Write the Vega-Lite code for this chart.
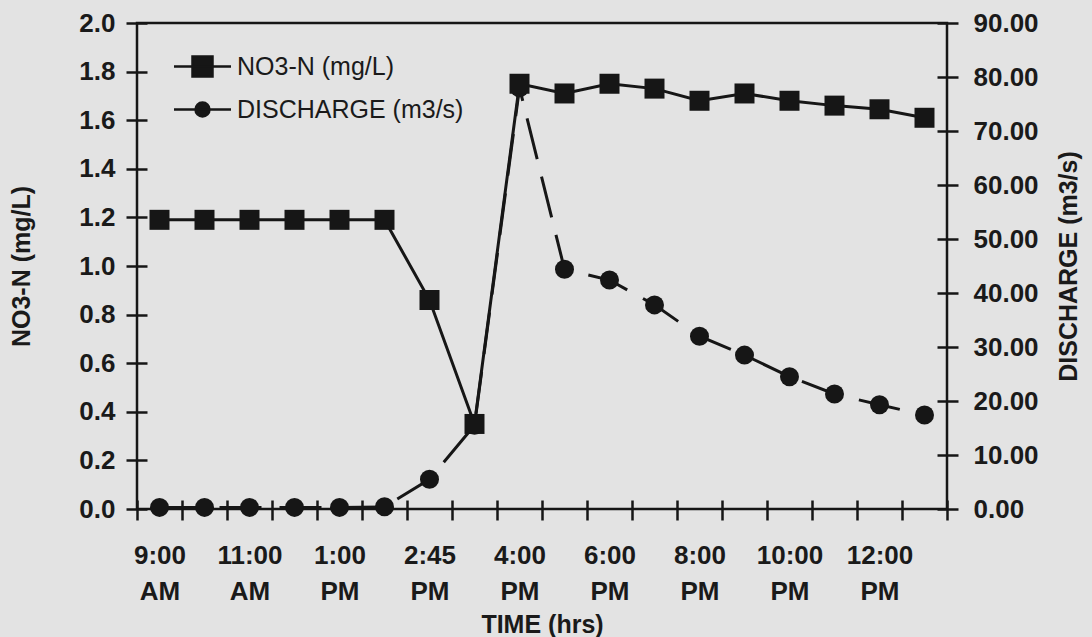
{
  "$schema": "https://vega.github.io/schema/vega-lite/v6.json",
  "width": 810,
  "height": 486,
  "autosize": "none",
  "padding": {"left": 137, "top": 23, "right": 145, "bottom": 128},
  "background": "#e3e3e3",
  "view": {"stroke": "#161616", "strokeWidth": 2.5},
  "config": {
    "font": "Liberation Sans",
    "axis": {
      "labelFont": "Liberation Sans", "labelFontWeight": "bold", "labelFontSize": 26, "labelColor": "#1a1a1a",
      "titleFont": "Liberation Sans", "titleFontWeight": "bold", "titleFontSize": 25, "titleColor": "#1a1a1a",
      "grid": false, "domain": false, "tickColor": "#161616", "tickWidth": 2.5
    },
    "legend": {
      "orient": "none", "title": null, "padding": 0, "symbolSize": 400,
      "labelFontSize": 25, "labelFont": "Liberation Sans", "labelColor": "#1a1a1a",
      "labelOffset": 22, "labelLimit": 500, "symbolStrokeWidth": 2.5,
      "symbolFillColor": "#161616", "symbolStrokeColor": "#161616"
    }
  },
  "data": {
    "values": [
      {"time": "9:00 AM", "no3": 1.19, "discharge": 0.3},
      {"time": "10:00 AM", "no3": 1.19, "discharge": 0.3},
      {"time": "11:00 AM", "no3": 1.19, "discharge": 0.3},
      {"time": "12:00 NOON", "no3": 1.19, "discharge": 0.3},
      {"time": "1:00 PM", "no3": 1.19, "discharge": 0.3},
      {"time": "2:00 PM", "no3": 1.19, "discharge": 0.4},
      {"time": "2:45 PM", "no3": 0.86, "discharge": 5.5},
      {"time": "3:15 PM", "no3": 0.35, "discharge": 15.5},
      {"time": "4:00 PM", "no3": 1.75, "discharge": 78},
      {"time": "5:00 PM", "no3": 1.71, "discharge": 44.4},
      {"time": "6:00 PM", "no3": 1.75, "discharge": 42.4},
      {"time": "7:00 PM", "no3": 1.73, "discharge": 37.8},
      {"time": "8:00 PM", "no3": 1.68, "discharge": 32.0},
      {"time": "9:00 PM", "no3": 1.71, "discharge": 28.5},
      {"time": "10:00 PM", "no3": 1.68, "discharge": 24.5},
      {"time": "11:00 PM", "no3": 1.66, "discharge": 21.3},
      {"time": "12:00 PM", "no3": 1.645, "discharge": 19.3},
      {"time": "1:00 AM", "no3": 1.61, "discharge": 17.4}
    ]
  },
  "encoding": {
    "x": {
      "field": "time", "type": "ordinal", "sort": null,
      "scale": {"type": "band", "paddingInner": 0, "paddingOuter": 0},
      "axis": {
        "title": "TIME (hrs)", "tickBand": "extent", "offset": -9, "tickSize": 20,
        "labelPadding": 22, "labelAngle": 0, "labelLineHeight": 36,
        "labelExpr": "round(datum.index*17) % 2 == 0 ? split(datum.label, ' ') : ''",
        "titlePadding": 8
      }
    }
  },
  "layer": [
    {
      "layer": [
        {
          "mark": {"type": "line", "color": "#161616", "strokeWidth": 3, "strokeDash": [42, 18]},
          "encoding": {
            "y": {
              "field": "discharge", "type": "quantitative", "scale": {"domain": [0, 90], "nice": false, "zero": true},
              "axis": {
                "orient": "right", "title": "DISCHARGE (m3/s)", "titleAngle": 270, "titleBaseline": "top",
                "values": [0, 10, 20, 30, 40, 50, 60, 70, 80, 90], "format": ".2f",
                "offset": -10, "tickSize": 21, "labelPadding": 15, "titlePadding": 18
              }
            }
          }
        },
        {
          "mark": {"type": "point", "filled": true, "color": "#161616", "shape": "circle", "size": 361, "opacity": 1},
          "encoding": {
            "y": {"field": "discharge", "type": "quantitative"},
            "fill": {
              "datum": "DISCHARGE (m3/s)",
              "scale": {"domain": ["DISCHARGE (m3/s)"], "range": ["#161616"]},
              "legend": {
                "legendX": 53, "legendY": 74,
                "symbolType": "M-2.85,0H2.85M-0.7,0A0.7,0.7,0,1,1,0.7,0A0.7,0.7,0,1,1,-0.7,0Z",
                "encode": {"symbols": {"stroke": {"value": "#161616"}, "strokeWidth": {"value": 2.5}, "opacity": {"value": 1}}}
              }
            }
          }
        }
      ]
    },
    {
      "layer": [
        {
          "mark": {"type": "line", "color": "#161616", "strokeWidth": 3},
          "encoding": {
            "y": {
              "field": "no3", "type": "quantitative", "scale": {"domain": [0, 2], "nice": false},
              "axis": {
                "orient": "left", "title": "NO3-N (mg/L)",
                "values": [0, 0.2, 0.4, 0.6, 0.8, 1.0, 1.2, 1.4, 1.6, 1.8, 2.0], "format": ".1f",
                "offset": -10, "tickSize": 21, "labelPadding": 11, "titlePadding": 44
              }
            }
          }
        },
        {
          "mark": {"type": "point", "filled": true, "shape": "square", "size": 400, "opacity": 1},
          "encoding": {
            "y": {"field": "no3", "type": "quantitative"},
            "color": {
              "datum": "NO3-N (mg/L)",
              "scale": {"domain": ["NO3-N (mg/L)"], "range": ["#161616"]},
              "legend": {
                "legendX": 53, "legendY": 31,
                "symbolType": "M-2.85,0H2.85M-1,-1H1V1H-1Z",
                "encode": {"symbols": {"shape": {"value": "M-2.85,0H2.85M-1,-1H1V1H-1Z"}, "stroke": {"value": "#161616"}, "strokeWidth": {"value": 2.5}, "opacity": {"value": 1}}}
              }
            }
          }
        }
      ]
    }
  ],
  "resolve": {"scale": {"y": "independent"}}
}
